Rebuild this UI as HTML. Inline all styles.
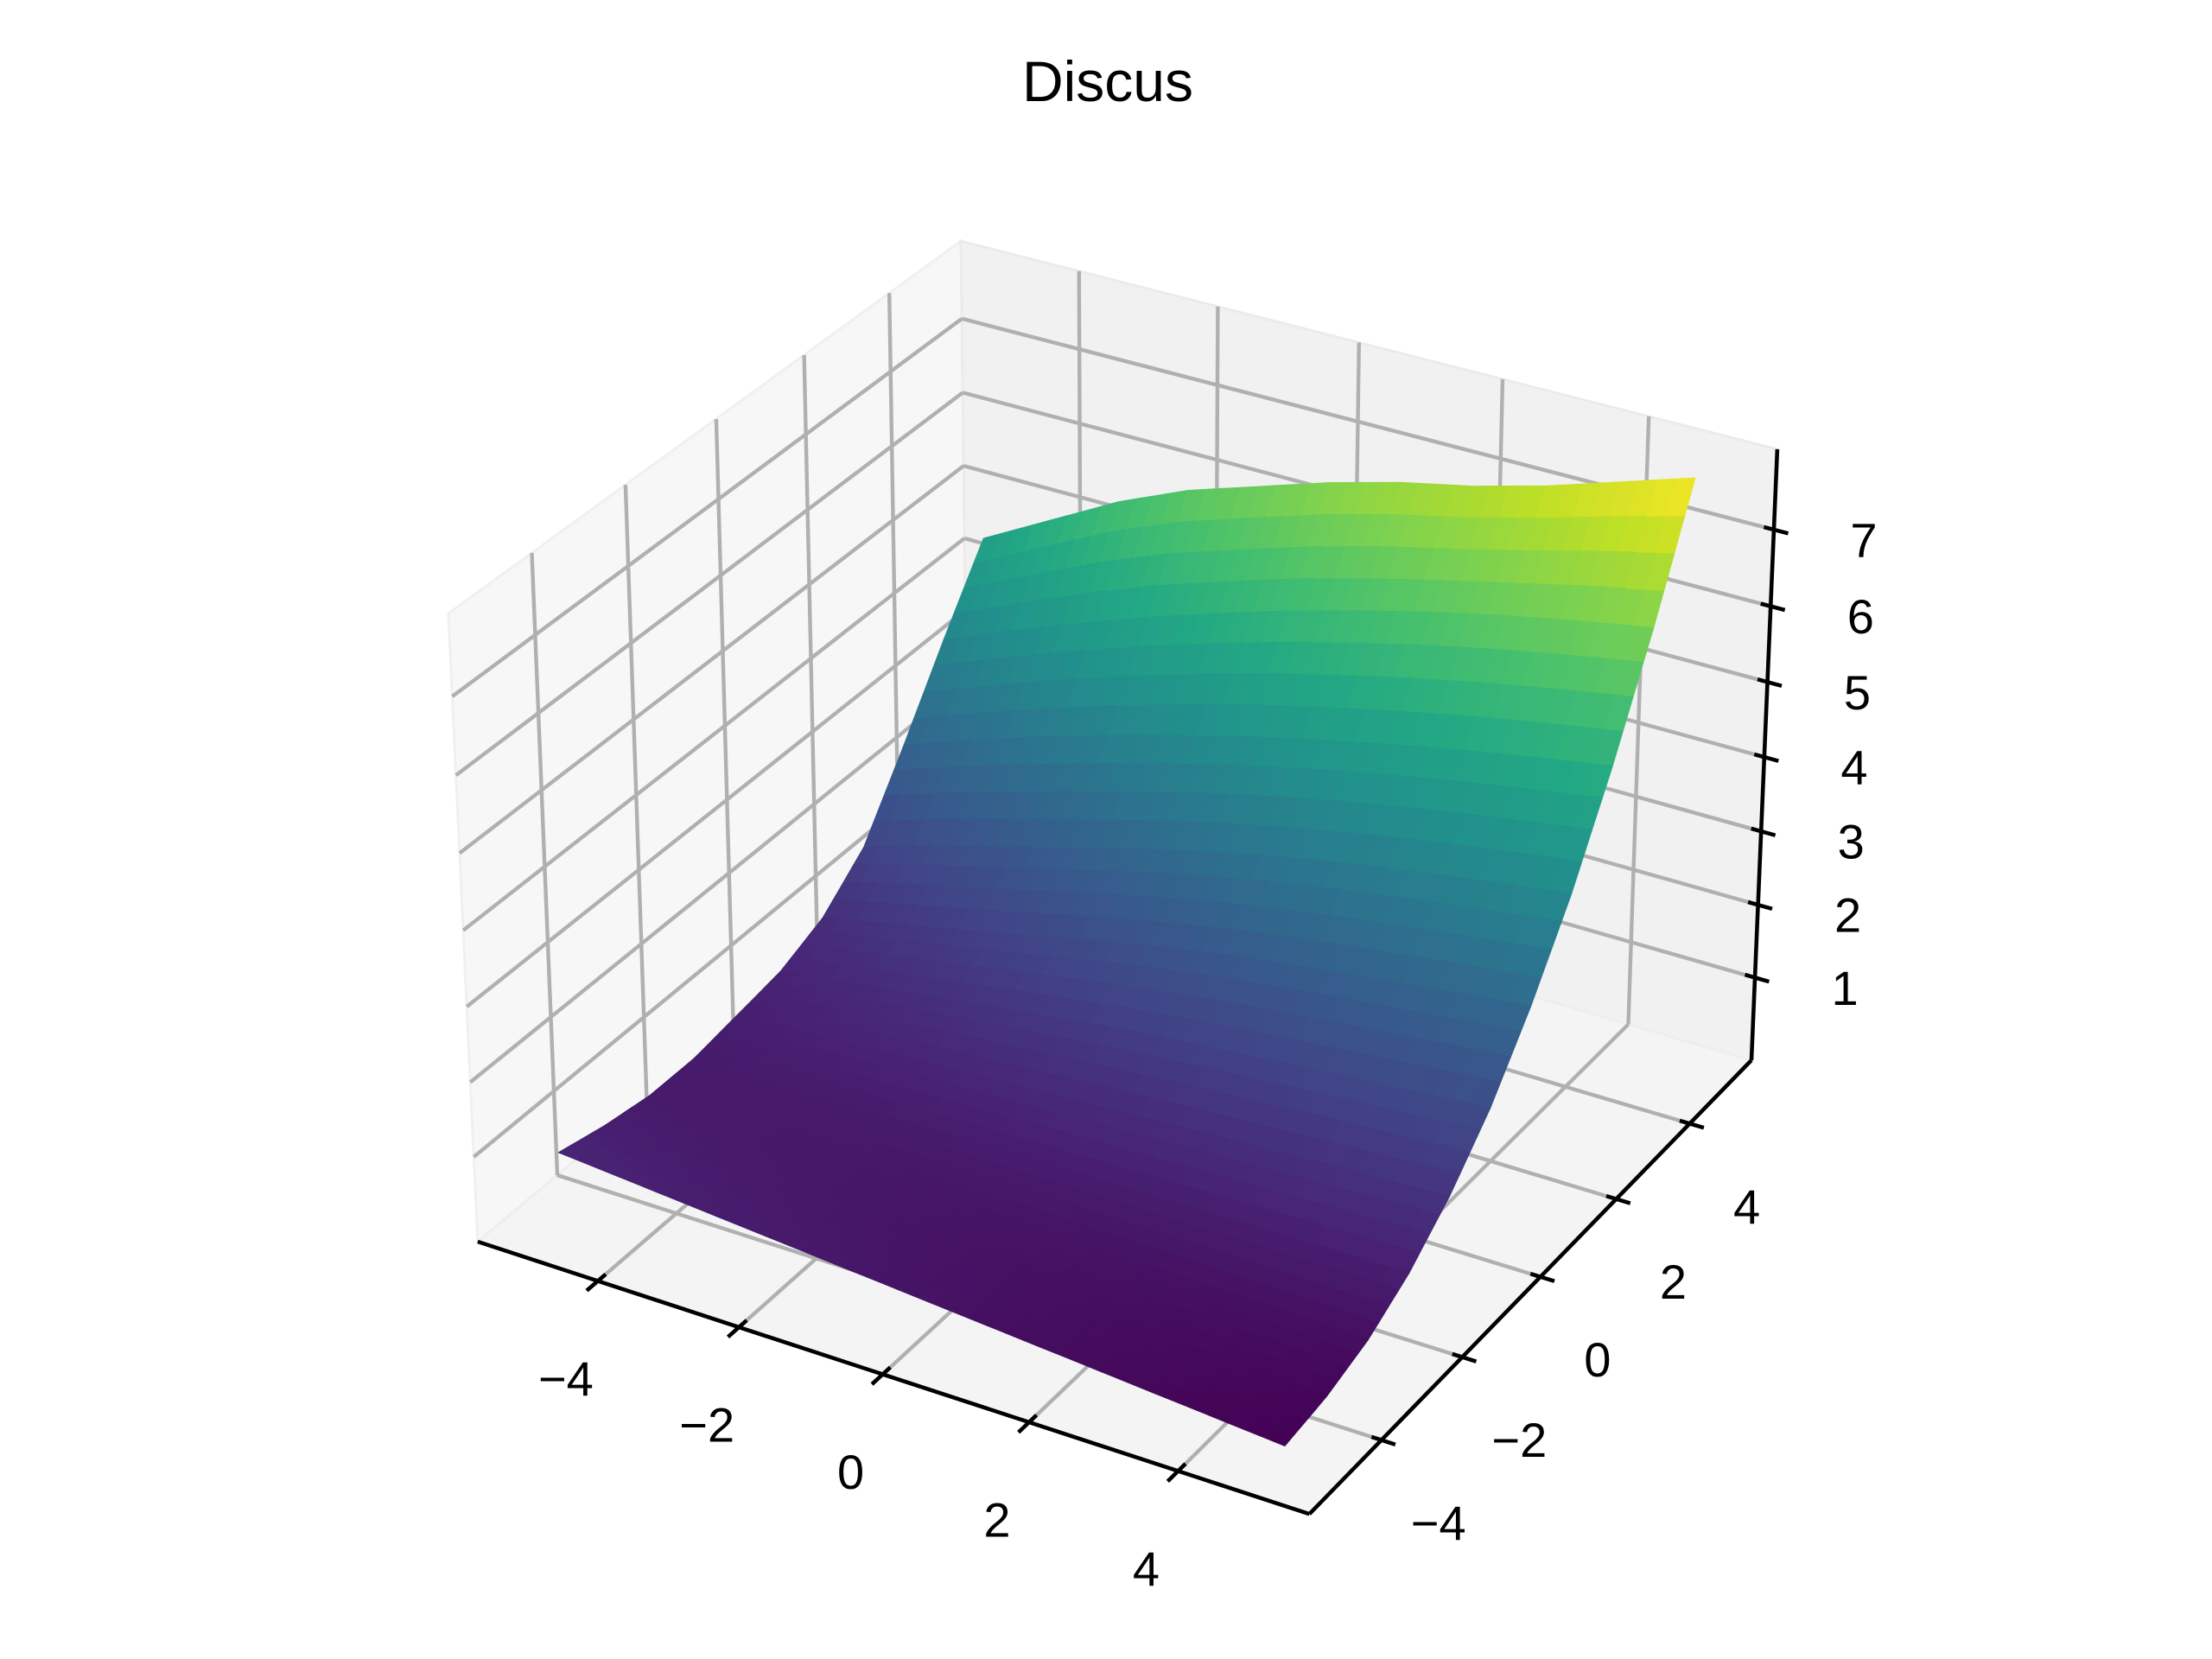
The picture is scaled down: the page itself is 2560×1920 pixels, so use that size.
<!DOCTYPE html>
<html><head><meta charset="utf-8"><title>Discus</title>
<style>html,body{margin:0;padding:0;background:#fff}svg{display:block}</style></head>
<body>
<svg id="chart" xmlns="http://www.w3.org/2000/svg" width="2560" height="1920" viewBox="0 0 2560 1920">
<rect x="0" y="0" width="2560" height="1920" fill="#ffffff"/>
<text x="1282" y="117" font-family="Liberation Sans, DejaVu Sans, sans-serif" font-size="66" text-anchor="middle" fill="#000">Discus</text>
<g id="panes"></g>
<g id="grid"></g>
<g id="axes"></g>
<g id="surface"></g>
</svg>
<script>
// ---- data ----
const xValues = [-5,-4,-3,-2,-1,0,1,2,3,4,5];
const yValues = [-5,-4,-3,-2,-1,0,1,2,3,4,5];
// zRows[j] = z along x for y = yValues[j]
const zRow0  = [0.90,0.82,0.74,0.66,0.58,0.50,0.42,0.34,0.26,0.18,0.10];
const zRow1  = [0.75,0.70,0.64,0.59,0.53,0.48,0.42,0.37,0.31,0.26,0.20];
const zRow2  = [0.65,0.63,0.60,0.58,0.55,0.53,0.50,0.48,0.45,0.43,0.40];
const zRow3  = [0.65,0.66,0.67,0.68,0.69,0.70,0.71,0.72,0.73,0.74,0.75];
const zRow4  = [0.75,0.80,0.85,0.90,0.95,1.00,1.05,1.10,1.15,1.20,1.25];
const zRow5  = [0.85,0.98,1.10,1.24,1.36,1.48,1.57,1.66,1.74,1.82,1.90];
const zRow6  = [1.10,1.30,1.50,1.70,1.92,2.10,2.27,2.40,2.52,2.64,2.75];
const zRow7  = [1.60,1.90,2.15,2.42,2.68,2.92,3.13,3.31,3.47,3.61,3.75];
const zRow8  = [2.55,2.88,3.20,3.48,3.75,4.00,4.22,4.43,4.62,4.79,4.95];
const zRow9  = [3.55,3.93,4.29,4.63,4.94,5.23,5.49,5.73,5.94,6.13,6.30];
const zRow10 = [4.50,5.00,5.50,5.90,6.20,6.50,6.75,6.95,7.20,7.50,7.80];
const zRows = [zRow0,zRow1,zRow2,zRow3,zRow4,zRow5,zRow6,zRow7,zRow8,zRow9,zRow10];
const xTicks = [-4,-2,0,2,4];
const yTicks = [-4,-2,0,2,4];
const zTicks = [1,2,3,4,5,6,7];
const xTickLabels = ["\u22124","\u22122","0","2","4"];
const yTickLabels = ["\u22124","\u22122","0","2","4"];
const zTickLabels = ["1","2","3","4","5","6","7"];

// ---- camera calibration (box extents + reference screen points, with weights) ----
const XB=[-5.73,5.73], YB=[-5.73,5.73], ZB=[-0.147,8.04];
const calib=[
 [[XB[0],YB[0],ZB[0]],[553,1437],8],[[XB[1],YB[0],ZB[0]],[1515,1752],8],
 [[XB[1],YB[1],ZB[0]],[2027,1227],8],[[XB[1],YB[1],ZB[1]],[2057,520],8],
 [[XB[0],YB[1],ZB[1]],[1112,279],8],[[XB[0],YB[0],ZB[1]],[519,710],8],
 [[XB[1],YB[1],1],[2029,1128],1],[[XB[1],YB[1],7],[2055,610],1],
 [[-2,YB[0],ZB[0]],[854,1539],1],[[0,YB[0],ZB[0]],[1022,1597],1],[[2,YB[0],ZB[0]],[1193,1651],1],[[4,YB[0],ZB[0]],[1368,1711],1],
 [[XB[1],-4,ZB[0]],[1601,1667],1],[[XB[1],-2,ZB[0]],[1696,1571],1],[[XB[1],0,ZB[0]],[1787,1476],1],[[XB[1],2,ZB[0]],[1876,1386],1]
];
function solveDLT(){
  const A=[],b=[];
  calib.forEach(([[X,Y,Z],[u,v],w])=>{
    A.push([X,Y,Z,1,0,0,0,0,-u*X,-u*Y,-u*Z].map(t=>t*w));b.push(u*w);
    A.push([0,0,0,0,X,Y,Z,1,-v*X,-v*Y,-v*Z].map(t=>t*w));b.push(v*w);
  });
  const n=11,M=[];
  for(let i=0;i<n;i++){M.push([]);for(let j=0;j<=n;j++){let s=0;for(let k=0;k<A.length;k++)s+=A[k][i]*(j<n?A[k][j]:b[k]);M[i].push(s);}}
  for(let c=0;c<n;c++){let p=c;for(let r=c+1;r<n;r++)if(Math.abs(M[r][c])>Math.abs(M[p][c]))p=r;
    [M[c],M[p]]=[M[p],M[c]];
    for(let r=0;r<n;r++){if(r===c)continue;const f=M[r][c]/M[c][c];for(let j=c;j<=n;j++)M[r][j]-=f*M[c][j];}}
  return M.map((r,i)=>r[n]/r[i]);
}
const P=solveDLT();
function proj(X,Y,Z){const w=P[8]*X+P[9]*Y+P[10]*Z+1;
  return [(P[0]*X+P[1]*Y+P[2]*Z+P[3])/w,(P[4]*X+P[5]*Y+P[6]*Z+P[7])/w];}
function depth(X,Y,Z){return 0.433*(X/11.46)-0.75*(Y/11.46)+0.5*(Z/8.19)*0.75;}

const NS='http://www.w3.org/2000/svg';
function mk(parent,tag,attrs){const e=document.createElementNS(NS,tag);for(const k in attrs)e.setAttribute(k,attrs[k]);parent.appendChild(e);return e;}
function pts(arr){return arr.map(p=>{const q=proj(p[0],p[1],p[2]);return q[0].toFixed(1)+','+q[1].toFixed(1);}).join(' ');}

// ---- panes ----
const gP=document.getElementById('panes');
let e;
e=mk(gP,'polygon',{points:pts([[XB[0],YB[0],ZB[0]],[XB[0],YB[1],ZB[0]],[XB[0],YB[1],ZB[1]],[XB[0],YB[0],ZB[1]]]),fill:'#f7f7f7',stroke:'#f0f0f0','stroke-width':3});


e=mk(gP,'polygon',{points:pts([[XB[0],YB[1],ZB[0]],[XB[1],YB[1],ZB[0]],[XB[1],YB[1],ZB[1]],[XB[0],YB[1],ZB[1]]]),fill:'#f1f1f1',stroke:'#ebebeb','stroke-width':3});


e=mk(gP,'polygon',{points:pts([[XB[0],YB[0],ZB[0]],[XB[1],YB[0],ZB[0]],[XB[1],YB[1],ZB[0]],[XB[0],YB[1],ZB[0]]]),fill:'#f4f4f4',stroke:'#eeeeee','stroke-width':3});



// ---- gridlines ----
const gG=document.getElementById('grid');
const gs={stroke:'#b0b0b0','stroke-width':4.4,fill:'none'};
function gline(a,b,name){const l=mk(gG,'polyline',Object.assign({points:pts([a,b])},gs));}
xTicks.forEach(x=>{gline([x,YB[0],ZB[0]],[x,YB[1],ZB[0]],'x-gridline-floor');gline([x,YB[1],ZB[0]],[x,YB[1],ZB[1]],'x-gridline-back');});
yTicks.forEach(y=>{gline([XB[0],y,ZB[0]],[XB[1],y,ZB[0]],'y-gridline-floor');gline([XB[0],y,ZB[0]],[XB[0],y,ZB[1]],'y-gridline-side');});
zTicks.forEach(z=>{gline([XB[0],YB[0],z],[XB[0],YB[1],z],'z-gridline-side');gline([XB[0],YB[1],z],[XB[1],YB[1],z],'z-gridline-back');});

// ---- axes ----
const gA=document.getElementById('axes');
function aline(a,b,name){const l=mk(gA,'polyline',{points:pts([a,b]),stroke:'#000','stroke-width':4.6,fill:'none'});}
aline([XB[0],YB[0],ZB[0]],[XB[1],YB[0],ZB[0]],'x-axis-line');
aline([XB[1],YB[0],ZB[0]],[XB[1],YB[1],ZB[0]],'y-axis-line');
aline([XB[1],YB[1],ZB[0]],[XB[1],YB[1],ZB[1]],'z-axis-line');
function tick(onAxis,inner,name){
  const p=proj(...onAxis),q=proj(...inner);let dx=q[0]-p[0],dy=q[1]-p[1];const L=Math.hypot(dx,dy);dx/=L;dy/=L;
  const t=mk(gA,'line',{x1:(p[0]+dx*12).toFixed(1),y1:(p[1]+dy*12).toFixed(1),x2:(p[0]-dx*17).toFixed(1),y2:(p[1]-dy*17).toFixed(1),stroke:'#000','stroke-width':4.6});
  return p;}
function label(p,off,txt,name){const t=mk(gA,'text',{x:(p[0]+off[0]).toFixed(1),y:(p[1]+off[1]).toFixed(1),'font-family':'Liberation Sans, DejaVu Sans, sans-serif','font-size':56,'text-anchor':'middle','dominant-baseline':'central',fill:'#000'});t.textContent=txt;}
xTicks.forEach((x,i)=>{const p=tick([x,YB[0],ZB[0]],[x,YB[1],ZB[0]],'x-tick');label(p,[-37,113],xTickLabels[i],'x-tick-label');});
yTicks.forEach((y,i)=>{const p=tick([XB[1],y,ZB[0]],[XB[0],y,ZB[0]],'y-tick');label(p,[66,96],yTickLabels[i],'y-tick-label');});
zTicks.forEach((z,i)=>{const p=tick([XB[1],YB[1],z],[XB[0],YB[1],z],'z-tick');label(p,[104,12],zTickLabels[i],'z-tick-label');});

// ---- viridis ----
const VIR=['#440154','#482475','#414487','#355f8d','#2a788e','#21918c','#22a884','#44bf70','#7ad151','#bddf26','#fde725'];
function hx(c){return [parseInt(c.substr(1,2),16),parseInt(c.substr(3,2),16),parseInt(c.substr(5,2),16)];}
function viridis(t){t=Math.max(0,Math.min(1,t));const f=t*10,i=Math.min(9,Math.floor(f)),r=f-i;const a=hx(VIR[i]),b=hx(VIR[i+1]);
  return 'rgb('+a.map((v,k)=>Math.round(v+(b[k]-v)*r)).join(',')+')';}

// ---- surface ----
const gS=document.getElementById('surface');
let zmin=Infinity,zmax=-Infinity;zRows.forEach(r=>r.forEach(v=>{zmin=Math.min(zmin,v);zmax=Math.max(zmax,v);}));
const SUB=4,faces=[];
function zAt(i,j,u,v){const z00=zRows[j][i],z10=zRows[j][i+1],z01=zRows[j+1][i],z11=zRows[j+1][i+1];
  return z00*(1-u)*(1-v)+z10*u*(1-v)+z01*(1-u)*v+z11*u*v;}
for(let j=0;j<yValues.length-1;j++)for(let i=0;i<xValues.length-1;i++){
  const x0=xValues[i],x1=xValues[i+1],y0=yValues[j],y1=yValues[j+1];
  for(let b=0;b<SUB;b++)for(let a=0;a<SUB;a++){
    const u0=a/SUB,u1=(a+1)/SUB,v0=b/SUB,v1=(b+1)/SUB;
    const c=[[u0,v0],[u1,v0],[u1,v1],[u0,v1]].map(([u,v])=>[x0+(x1-x0)*u,y0+(y1-y0)*v,zAt(i,j,u,v)]);
    const zm=(c[0][2]+c[1][2]+c[2][2]+c[3][2])/4,xm=(c[0][0]+c[2][0])/2,ym=(c[0][1]+c[2][1])/2;
    faces.push({c,zm,d:depth(xm,ym,zm)});
  }
}
faces.sort((a,b)=>a.d-b.d);
faces.forEach(f=>{const col=viridis((f.zm-zmin)/(zmax-zmin));
  const p=mk(gS,'polygon',{points:pts(f.c),fill:col,stroke:col,'stroke-width':1.2,'stroke-linejoin':'round'});
  
  
});
</script>
</body></html>
